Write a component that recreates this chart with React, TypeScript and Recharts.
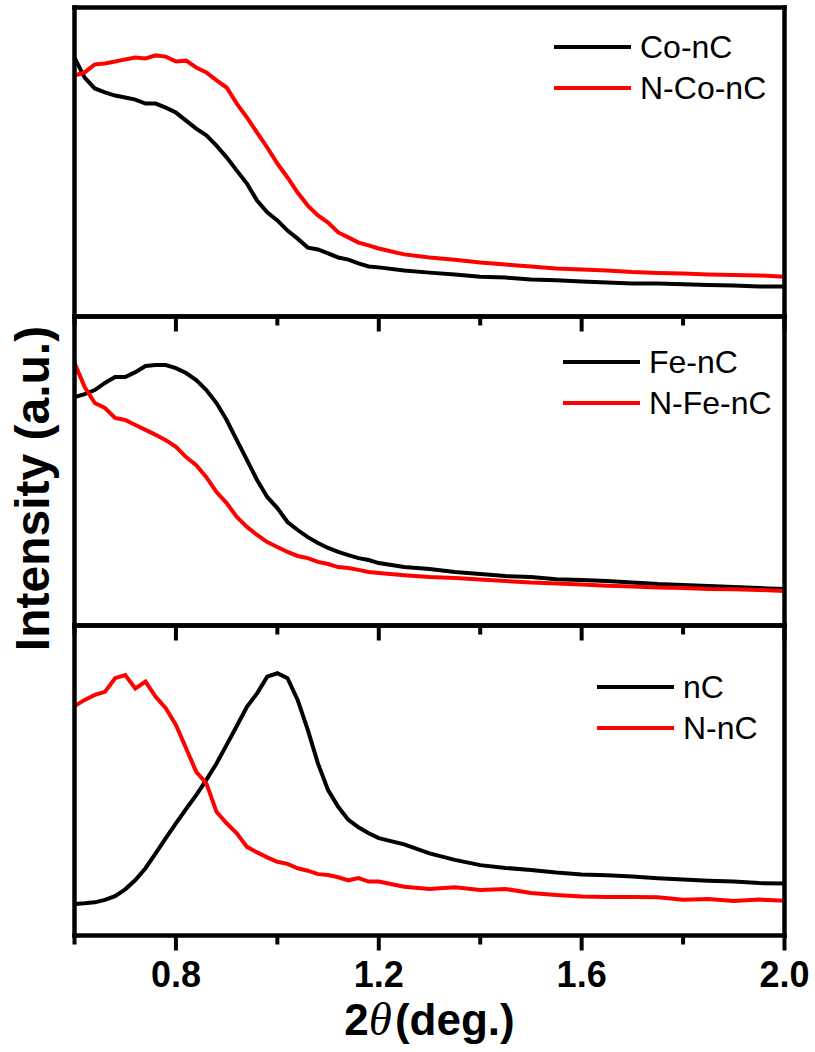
import { LineChart, Line, XAxis, YAxis, Legend } from 'recharts'

const twoTheta = [
  0.6, 0.62, 0.64, 0.66, 0.68, 0.7, 0.72, 0.74, 0.76, 0.78, 0.8, 0.82, 0.84, 0.86, 0.88, 0.9,
  0.92, 0.94, 0.96, 0.98, 1.0, 1.02, 1.04, 1.06, 1.08, 1.1, 1.12, 1.14, 1.16, 1.18, 1.2,
  1.25, 1.3, 1.35, 1.4, 1.45, 1.5, 1.55, 1.6, 1.65, 1.7, 1.75, 1.8, 1.85, 1.9, 1.95, 2.0,
]

const coNC = [
  83.8, 77.3, 73.8, 72.5, 71.5, 70.9, 70.2, 68.9, 68.9, 67.6, 66.0, 63.4, 60.8, 58.6, 55.3, 51.5,
  47.2, 43.0, 37.5, 33.7, 31.1, 27.8, 25.2, 22.3, 21.7, 20.4, 19.1, 18.4, 17.2, 16.2, 15.9,
  14.9, 14.2, 13.6, 12.9, 12.6, 12.0, 11.7, 11.3, 11.0, 10.7, 10.7, 10.4, 10.2, 10.0, 9.7, 9.7,
]
const nCoNC = [
  78.0, 79.0, 81.6, 81.9, 82.5, 83.2, 83.8, 83.5, 84.5, 84.1, 82.5, 82.8, 80.6, 79.0, 76.4, 74.1,
  68.9, 64.4, 59.5, 54.7, 49.5, 45.0, 40.1, 35.9, 32.7, 30.4, 27.2, 25.6, 23.9, 23.0, 22.0,
  20.1, 19.1, 18.4, 17.5, 16.8, 16.2, 15.5, 15.2, 14.9, 14.4, 14.1, 13.9, 13.6, 13.4, 13.3, 12.9,
]
const feNC = [
  73.9, 74.9, 76.2, 78.5, 80.4, 80.4, 82.0, 84.0, 84.3, 84.3, 83.3, 81.7, 79.4, 76.2, 72.0, 66.5,
  60.0, 53.6, 47.1, 41.6, 38.0, 33.5, 30.9, 28.6, 26.7, 25.1, 23.8, 22.8, 21.8, 21.2, 20.2,
  18.9, 18.3, 17.3, 16.7, 16.0, 15.7, 15.0, 14.7, 14.4, 13.9, 13.4, 13.1, 12.8, 12.5, 12.1, 11.8,
]
const nFeNC = [
  85.0, 77.2, 72.0, 70.4, 67.2, 66.5, 64.9, 63.3, 61.7, 60.0, 57.8, 54.5, 51.9, 48.0, 43.2, 39.6,
  35.1, 31.9, 29.3, 27.0, 25.4, 23.8, 22.5, 21.8, 20.6, 19.9, 18.9, 18.6, 18.0, 17.3, 17.0,
  16.3, 15.7, 15.4, 14.9, 14.4, 13.9, 13.6, 13.3, 12.9, 12.6, 12.3, 12.1, 11.8, 11.7, 11.5, 11.2,
]
const nC = [
  10.2, 10.4, 10.7, 11.5, 12.7, 14.9, 17.9, 21.7, 26.5, 31.4, 36.2, 40.8, 45.3, 50.2, 55.5, 61.5,
  67.6, 73.8, 78.1, 83.5, 84.6, 83.0, 76.0, 66.3, 55.5, 46.9, 41.5, 37.3, 34.9, 33.0, 31.4,
  29.4, 26.5, 24.4, 22.7, 21.8, 21.1, 20.3, 19.7, 19.4, 19.0, 18.5, 18.1, 17.7, 17.4, 16.9, 16.8,
]
const nNC = [
  74.0, 76.0, 77.6, 78.6, 83.0, 84.0, 79.7, 81.9, 77.0, 73.3, 67.9, 60.4, 52.8, 49.1, 39.9, 36.2,
  33.0, 28.6, 26.8, 25.2, 23.8, 23.1, 21.7, 20.9, 19.8, 19.5, 18.8, 17.8, 18.5, 17.4, 17.4,
  15.7, 15.0, 15.6, 14.7, 15.0, 13.7, 13.1, 12.6, 12.4, 12.4, 12.3, 11.5, 11.8, 11.1, 11.6, 11.2,
]

const xTicks = [0.6, 0.8, 1.0, 1.2, 1.4, 1.6, 1.8, 2.0]
const majorTicks = [0.8, 1.2, 1.6, 2.0]

const panels = [
  { black: 'Co-nC', red: 'N-Co-nC', blackValues: coNC, redValues: nCoNC },
  { black: 'Fe-nC', red: 'N-Fe-nC', blackValues: feNC, redValues: nFeNC },
  { black: 'nC', red: 'N-nC', blackValues: nC, redValues: nNC },
]

// layout (page pixels)
const W = 815
const H = 1052
const PLOT_LEFT = 74.5
const PLOT_RIGHT = 784.5
const EDGES = [7.5, 316.5, 625.5, 935.5]
const AXIS = 1 // thickness reserved for each frame axis
const LEGEND_POS = [
  { left: 554, top: 26.5 },
  { left: 563, top: 341.5 },
  { left: 597, top: 666.5 },
]

const FONT = "'Liberation Sans', Arial, sans-serif"
const frameLine = { stroke: '#000', strokeWidth: 4.5, strokeLinecap: 'square' as const }

function FrameTick(props: any) {
  const { x, y, payload, showLabel } = props
  const v = payload.value
  const major = majorTicks.some((m) => Math.abs(m - v) < 1e-6)
  return (
    <g>
      <line x1={x} x2={x} y1={y} y2={y + (major ? 15 : 9)} stroke="#000" strokeWidth={4} />
      {showLabel && major && (
        <text x={x} y={y + 51} textAnchor="middle" fontFamily={FONT} fontWeight="bold" fontSize={36} fill="#000">
          {v.toFixed(1)}
        </text>
      )}
    </g>
  )
}

const XTitle = (props: any) => {
  const vb = props.viewBox ?? { x: PLOT_LEFT, y: EDGES[3], width: PLOT_RIGHT - PLOT_LEFT }
  return (
    <text x={vb.x + vb.width / 2} y={vb.y + 99.5} textAnchor="middle" fontFamily={FONT} fontWeight="bold" fontSize={44} fill="#000">
      2
      <tspan fontFamily="'Liberation Serif', serif" fontStyle="italic" fontWeight="normal" fontSize={47}>θ</tspan>
      <tspan dx={3} fontSize={44}>(deg.)</tspan>
    </text>
  )
}

const YTitle = (props: any) => {
  const vb = props.viewBox ?? { x: PLOT_LEFT - AXIS, width: AXIS, y: EDGES[1], height: EDGES[2] - EDGES[1] }
  const cx = vb.x + vb.width - 25.5
  const cy = vb.y + vb.height / 2 + 17.5
  return (
    <text transform={`translate(${cx},${cy}) rotate(-90)`} textAnchor="middle" fontFamily={FONT} fontWeight="bold" fontSize={48} fill="#000">
      Intensity (a.u.)
    </text>
  )
}

// legend rows keep the series order (black sample first)
const makeLegend = (order: string[]) => (props: any) => {
  const items = [...(props.payload ?? [])].sort((a: any, b: any) => order.indexOf(a.value) - order.indexOf(b.value))
  return (
    <div style={{ fontFamily: FONT, fontSize: 32, color: '#000' }}>
      {items.map((p: any) => (
        <div key={p.value} style={{ display: 'flex', alignItems: 'center', height: 41, lineHeight: '41px', whiteSpace: 'nowrap' }}>
          <span style={{ display: 'inline-block', width: 77, height: 4, background: p.color, marginRight: 9 }} />
          {p.value}
        </div>
      ))}
    </div>
  )
}

function Panel({ index }: { index: number }) {
  const p = panels[index]
  const top = EDGES[index]
  const bottom = EDGES[index + 1]
  const isLast = index === panels.length - 1
  const rows = twoTheta.map((t, i) => ({ t, a: p.blackValues[i], b: p.redValues[i] }))
  return (
    <div style={{ position: 'absolute', left: 0, top: 0 }}>
      <LineChart
        width={W}
        height={H}
        data={rows}
        margin={{ top: top - AXIS, bottom: H - bottom - AXIS, left: PLOT_LEFT - AXIS, right: W - PLOT_RIGHT - AXIS }}
      >
        <XAxis
          dataKey="t"
          type="number"
          domain={[0.6, 2.0]}
          ticks={xTicks}
          interval={0}
          height={AXIS}
          tickLine={false}
          tickSize={0}
          tickMargin={0}
          axisLine={frameLine}
          tick={(props: any) => <FrameTick {...props} showLabel={isLast} />}
          label={isLast ? { content: XTitle } : undefined}
        />
        <XAxis xAxisId="top" orientation="top" type="number" domain={[0.6, 2.0]} height={AXIS} tick={false} tickLine={false} axisLine={frameLine} />
        <YAxis
          type="number"
          domain={[0, 100]}
          width={AXIS}
          tick={false}
          tickLine={false}
          axisLine={frameLine}
          label={index === 1 ? { content: YTitle } : undefined}
        />
        <YAxis yAxisId="right" orientation="right" type="number" domain={[0, 100]} width={AXIS} tick={false} tickLine={false} axisLine={frameLine} />
        <Legend
          layout="vertical"
          align="center"
          verticalAlign="middle"
          content={makeLegend([p.black, p.red])}
          wrapperStyle={{ left: LEGEND_POS[index].left, top: LEGEND_POS[index].top, width: 240 }}
        />
        <Line dataKey="a" name={p.black} type="linear" stroke="#000000" strokeWidth={4} dot={false} isAnimationActive={false} />
        <Line dataKey="b" name={p.red} type="linear" stroke="#ff0000" strokeWidth={4} dot={false} isAnimationActive={false} />
      </LineChart>
    </div>
  )
}

export default function App() {
  return (
    <div style={{ position: 'absolute', left: 0, top: 0, width: W, height: H, background: '#fff' }}>
      {panels.map((_, i) => (
        <Panel key={i} index={i} />
      ))}
    </div>
  )
}
